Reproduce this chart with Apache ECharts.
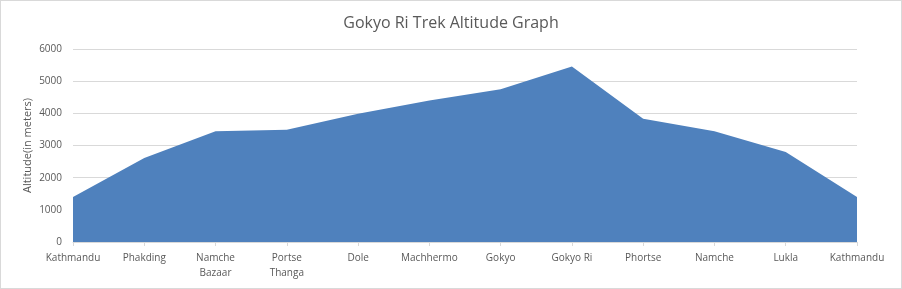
<!DOCTYPE html>
<html>
<head>
<meta charset="utf-8">
<script src="https://cdn.jsdelivr.net/npm/echarts@6/dist/echarts.min.js"></script>
<style>
html,body{margin:0;padding:0;background:#fff;}
#c{width:902px;height:289px;box-sizing:border-box;border:1px solid #d9d9d9;}
</style>
</head>
<body>
<div id="c"></div>
<script>
const categories = ["Kathmandu","Phakding","Namche\nBazaar","Portse\nThanga","Dole","Machhermo","Gokyo","Gokyo Ri","Phortse","Namche","Lukla","Kathmandu"];
const altitudes = [1400, 2610, 3440, 3490, 3990, 4400, 4750, 5455, 3830, 3440, 2800, 1400];
const yTicks = {min: 0, max: 6000, interval: 1000};
const titleText = "Gokyo Ri Trek Altitude Graph";
const yName = "Altitude(in meters)";

const chart = echarts.init(document.getElementById('c'), null, {renderer: 'canvas'});
const font = "'Open Sans', sans-serif";
chart.setOption({
  animation: false,
  title: {
    text: titleText, left: 'center', top: 9,
    textStyle: {fontFamily: font, fontSize: 16, fontWeight: 'normal', color: '#595959'}
  },
  grid: {left: 72, right: 44, top: 48, bottom: 46, containLabel: false},
  xAxis: {
    type: 'category', data: categories, boundaryGap: false,
    axisLine: {show: true, lineStyle: {color: '#d9d9d9'}},
    axisTick: {show: true, alignWithLabel: true, length: 4, lineStyle: {color: '#d9d9d9'}},
    axisLabel: {interval: 0, margin: 9, fontFamily: font, fontSize: 10, color: '#595959', lineHeight: 15}
  },
  yAxis: {
    type: 'value', min: yTicks.min, max: yTicks.max, interval: yTicks.interval,
    name: yName, nameLocation: 'middle', nameGap: 40, nameRotate: 90, nameMoveOverlap: false,
    nameTextStyle: {fontFamily: font, fontSize: 11, color: '#595959'},
    axisLine: {show: false}, axisTick: {show: false},
    axisLabel: {margin: 11, fontFamily: font, fontSize: 10, color: '#595959', formatter: v => String(v)},
    splitLine: {lineStyle: {color: '#d9d9d9'}}
  },
  series: [{
    type: 'line', data: altitudes, symbol: 'none',
    lineStyle: {width: 0, color: '#4f81bd'},
    itemStyle: {color: '#4f81bd'},
    areaStyle: {color: '#4f81bd', opacity: 1}
  }]
});
</script>
</body>
</html>
